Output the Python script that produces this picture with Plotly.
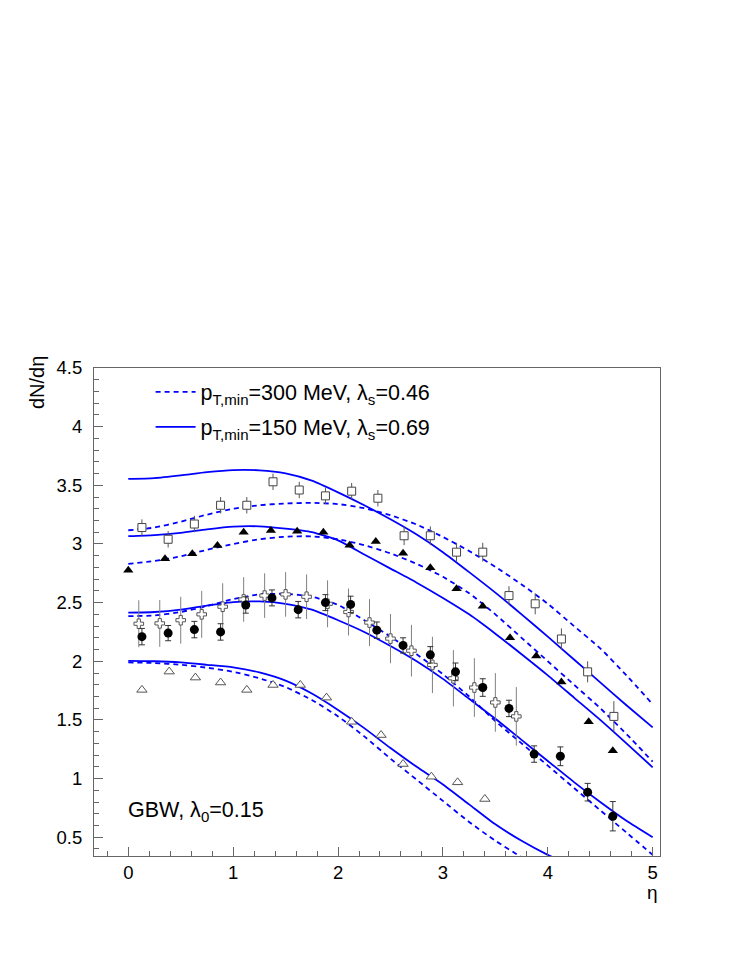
import plotly.graph_objects as go

# ---------------- data ----------------
eta_grid = [0.0, 0.25, 0.5, 0.75, 1.0, 1.25, 1.5, 1.75, 2.0, 2.25, 2.5,
            2.75, 3.0, 3.25, 3.5, 3.75, 4.0, 4.25, 4.5, 4.75, 5.0]

# model curves: solid = pT,min=150 MeV, dashed = pT,min=300 MeV
solid_1 = [3.555, 3.562, 3.585, 3.612, 3.630, 3.628, 3.602, 3.54, 3.44, 3.33, 3.21,
           3.08, 2.93, 2.76, 2.585, 2.40, 2.21, 2.015, 1.82, 1.625, 1.436]
dashed_1 = [3.117, 3.14, 3.19, 3.25, 3.30, 3.33, 3.345, 3.35, 3.34, 3.305, 3.245,
            3.165, 3.06, 2.94, 2.805, 2.655, 2.49, 2.30, 2.11, 1.88, 1.634]
solid_2 = [3.066, 3.075, 3.095, 3.125, 3.148, 3.15, 3.13, 3.10, 3.03, 2.91, 2.79,
           2.67, 2.54, 2.40, 2.235, 2.06, 1.88, 1.69, 1.50, 1.30, 1.096]
dashed_2 = [2.83, 2.855, 2.895, 2.95, 3.00, 3.04, 3.062, 3.065, 3.04, 2.99, 2.92,
            2.83, 2.72, 2.58, 2.40, 2.20, 2.00, 1.80, 1.60, 1.38, 1.144]
solid_3 = [2.414, 2.42, 2.44, 2.475, 2.505, 2.51, 2.49, 2.44, 2.35, 2.25, 2.13,
           2.00, 1.85, 1.68, 1.51, 1.33, 1.15, 0.97, 0.80, 0.64, 0.50]
dashed_3 = [2.385, 2.39, 2.42, 2.47, 2.53, 2.57, 2.575, 2.55, 2.48, 2.35, 2.21,
            2.06, 1.89, 1.70, 1.49, 1.30, 1.11, 0.92, 0.73, 0.54, 0.35]
solid_4 = [2.003, 2.0, 1.99, 1.97, 1.948, 1.905, 1.835, 1.725, 1.585, 1.43, 1.26,
           1.10, 0.95, 0.78, 0.61, 0.47, 0.35, 0.25, 0.16, 0.09, 0.05]
dashed_4 = [1.99, 1.985, 1.97, 1.945, 1.91, 1.855, 1.78, 1.67, 1.53, 1.36, 1.17,
            0.99, 0.81, 0.63, 0.47, 0.33, 0.20, 0.10, 0.04, 0.0, -0.03]

# measured points
sq_eta = [0.13, 0.38, 0.63, 0.88, 1.13, 1.38, 1.63, 1.88, 2.13, 2.38,
          2.63, 2.88, 3.13, 3.38, 3.63, 3.88, 4.13, 4.38, 4.63]
sq_val = [3.14, 3.04, 3.17, 3.33, 3.33, 3.53, 3.46, 3.41, 3.45, 3.39,
          3.07, 3.07, 2.93, 2.93, 2.56, 2.49, 2.19, 1.91, 1.53]
sq_err = [0.07, 0.07, 0.07, 0.07, 0.07, 0.07, 0.07, 0.07, 0.07, 0.07,
          0.08, 0.08, 0.08, 0.08, 0.08, 0.09, 0.09, 0.09, 0.13]

tri_eta = [0.0, 0.35, 0.61, 0.85, 1.10, 1.36, 1.61, 1.86, 2.11, 2.36,
           2.62, 2.88, 3.13, 3.38, 3.64, 3.89, 4.13, 4.39, 4.62]
tri_val = [2.776, 2.873, 2.916, 2.986, 3.10, 3.114, 3.108, 3.10, 2.99, 3.02,
           2.92, 2.797, 2.618, 2.47, 2.20, 2.045, 1.824, 1.484, 1.237]

circ_eta = [0.13, 0.38, 0.63, 0.88, 1.12, 1.37, 1.62, 1.88, 2.12, 2.37,
            2.62, 2.88, 3.12, 3.38, 3.63, 3.87, 4.12, 4.38, 4.62]
circ_val = [2.21, 2.24, 2.27, 2.25, 2.48, 2.54, 2.44, 2.50, 2.485, 2.265,
            2.135, 2.055, 1.91, 1.776, 1.598, 1.209, 1.19, 0.884, 0.679]
circ_err = [0.07, 0.065, 0.07, 0.07, 0.07, 0.068, 0.07, 0.068, 0.07, 0.07,
            0.065, 0.07, 0.075, 0.075, 0.07, 0.07, 0.08, 0.075, 0.125]

cross_eta = [0.10, 0.30, 0.50, 0.70, 0.90, 1.10, 1.30, 1.50, 1.70, 1.90,
             2.10, 2.30, 2.50, 2.70, 2.90, 3.10, 3.30, 3.50, 3.70]
cross_val = [2.32, 2.323, 2.35, 2.40, 2.465, 2.527, 2.56, 2.57, 2.55, 2.49,
             2.42, 2.33, 2.193, 2.09, 1.969, 1.855, 1.776, 1.649, 1.53]
cross_err = [0.20, 0.20, 0.20, 0.20, 0.20, 0.19, 0.19, 0.19, 0.19, 0.20,
             0.20, 0.20, 0.21, 0.22, 0.24, 0.24, 0.25, 0.25, 0.25]

otri_eta = [0.13, 0.39, 0.64, 0.88, 1.13, 1.38, 1.64, 1.89, 2.13, 2.41,
            2.62, 2.89, 3.14, 3.40]
otri_val = [1.756, 1.912, 1.861, 1.819, 1.756, 1.798, 1.798, 1.69, 1.484, 1.371,
            1.124, 1.016, 0.968, 0.826]

x_ticks = [0, 1, 2, 3, 4, 5]
y_ticks = [0.5, 1, 1.5, 2, 2.5, 3, 3.5, 4, 4.5]

legend_dashed = "p<sub>T,min</sub>=300 MeV, λ<sub>s</sub>=0.46"
legend_solid = "p<sub>T,min</sub>=150 MeV, λ<sub>s</sub>=0.69"
label_text = "GBW, λ<sub>0</sub>=0.15"

# ---------------- figure ----------------
FONT = "Liberation Sans, Arial, Helvetica, sans-serif"
BLUE = "#0000ff"
fig = go.Figure()

dashed_sets = [dashed_1, dashed_2, dashed_3, dashed_4]
solid_sets = [solid_1, solid_2, solid_3, solid_4]
for i, ys in enumerate(dashed_sets):
    fig.add_trace(go.Scatter(x=eta_grid, y=ys, mode="lines",
                             line=dict(color=BLUE, width=1.8, dash="5px,4px", shape="spline", smoothing=0.6),
                             name=legend_dashed, showlegend=(i == 0), legendgroup="d"))
for i, ys in enumerate(solid_sets):
    fig.add_trace(go.Scatter(x=eta_grid, y=ys, mode="lines",
                             line=dict(color=BLUE, width=1.8, shape="spline", smoothing=0.6),
                             name=legend_solid, showlegend=(i == 0), legendgroup="s"))

fig.add_trace(go.Scatter(x=cross_eta, y=cross_val, mode="markers",
                         error_y=dict(type="data", array=cross_err, color="#808080", thickness=1, width=0),
                         marker=dict(symbol="cross", size=8, color="white", line=dict(color="#555555", width=1)),
                         showlegend=False))
fig.add_trace(go.Scatter(x=sq_eta, y=sq_val, mode="markers",
                         error_y=dict(type="data", array=sq_err, color="#555555", thickness=1, width=0),
                         marker=dict(symbol="square", size=8, color="white", line=dict(color="#444444", width=1)),
                         showlegend=False))
fig.add_trace(go.Scatter(x=tri_eta, y=tri_val, mode="markers",
                         marker=dict(symbol="triangle-up", size=9, color="black"),
                         showlegend=False))
fig.add_trace(go.Scatter(x=circ_eta, y=circ_val, mode="markers",
                         error_y=dict(type="data", array=circ_err, color="#333333", thickness=1, width=3),
                         marker=dict(symbol="circle", size=9, color="black"),
                         showlegend=False))
fig.add_trace(go.Scatter(x=otri_eta, y=otri_val, mode="markers",
                         marker=dict(symbol="triangle-up", size=9, color="white", line=dict(color="#555555", width=1)),
                         showlegend=False))

axis_common = dict(showline=True, mirror=True, linecolor="#666666", linewidth=1,
                   ticks="inside", ticklen=9, tickcolor="#666666", tickwidth=1,
                   showgrid=False, zeroline=False,
                   tickfont=dict(family=FONT, size=18.5, color="black"))

fig.update_xaxes(range=[-0.327, 5.07], tickvals=x_ticks, ticklabelstandoff=0,
                 minor=dict(dtick=0.2, tick0=0, ticks="inside", ticklen=5, tickcolor="#666666", showgrid=False),
                 **axis_common)
fig.update_yaxes(range=[0.34, 4.5], tickvals=y_ticks, ticklabelstandoff=7,
                 minor=dict(dtick=0.1, tick0=0, ticks="inside", ticklen=5, tickcolor="#666666", showgrid=False),
                 **axis_common)

fig.update_layout(
    width=747, height=967,
    margin=dict(l=94, r=87, t=368, b=111),
    paper_bgcolor="white", plot_bgcolor="white",
    font=dict(family=FONT, size=18, color="black"),
    showlegend=True,
    legend=dict(x=0.1, y=0.993, xanchor="left", yanchor="top",
                bgcolor="rgba(0,0,0,0)", borderwidth=0, itemwidth=40,
                tracegroupgap=4, font=dict(family=FONT, size=21.5, color="black")),
    annotations=[
        dict(text="dN/dη", xref="paper", yref="paper", x=(37 - 94) / 566, y=(856 - 383) / 488,
             textangle=-90, showarrow=False, xanchor="center", yanchor="middle",
             font=dict(family=FONT, size=20, color="black")),
        dict(text="η", xref="paper", yref="paper", x=(652 - 94) / 566, y=(856 - 892) / 488,
             showarrow=False, xanchor="center", yanchor="middle",
             font=dict(family=FONT, size=19, color="black")),
        dict(text=label_text, xref="paper", yref="paper", x=(126 - 94) / 566, y=(856 - 811) / 488,
             showarrow=False, xanchor="left", yanchor="middle",
             font=dict(family=FONT, size=21.5, color="black")),
    ],
)

fig.write_html("out.html", config={"displayModeBar": False},
               post_script="document.body.style.margin='0';")
